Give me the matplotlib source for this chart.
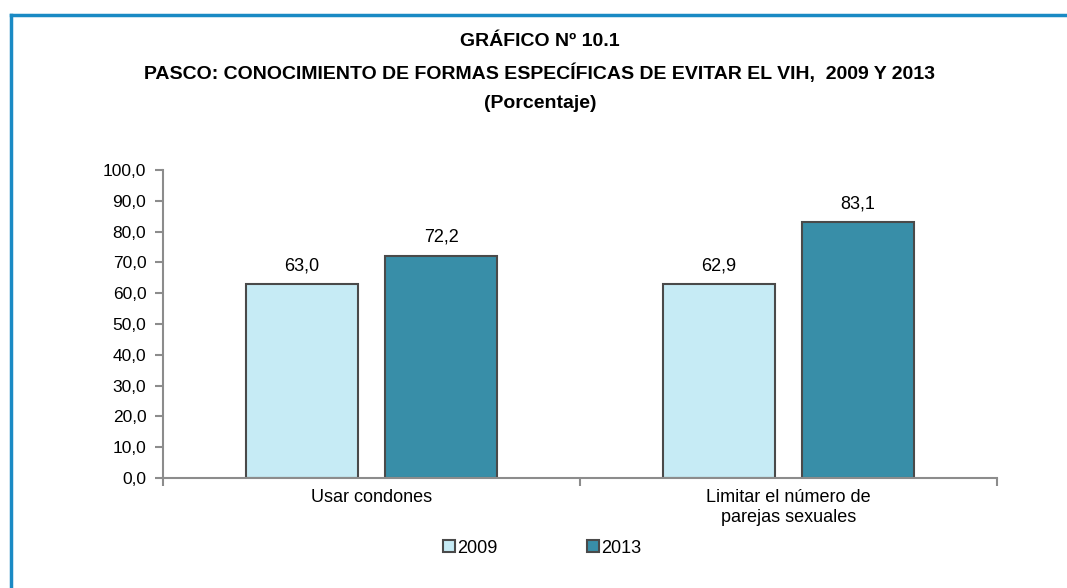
import matplotlib

matplotlib.use("Agg")
import matplotlib.pyplot as plt
from matplotlib.lines import Line2D
from matplotlib.patches import Patch
import numpy as np

plt.rcParams["font.family"] = ["Liberation Sans", "DejaVu Sans"]

categories = ["Usar condones", "Limitar el número de\nparejas sexuales"]
years = ["2009", "2013"]
values_2009 = [63.0, 62.9]
values_2013 = [72.2, 83.1]
yticks = [0, 10, 20, 30, 40, 50, 60, 70, 80, 90, 100]

title_lines = ["GRÁFICO Nº 10.1",
               "PASCO: CONOCIMIENTO DE FORMAS ESPECÍFICAS DE EVITAR EL VIH,  2009 Y 2013",
               "(Porcentaje)"]

LIGHT = "#C6EBF5"
DARK = "#388EA8"
EDGE = "#4a4a4a"
GREY = "#8c8c8c"


def fmt(v):
    return f"{v:.1f}".replace(".", ",")


fig = plt.figure(figsize=(10.67, 5.88), dpi=100)
ax = fig.add_axes([0.1528, 0.1871, 0.7816, 0.5238])

x = np.arange(len(categories)) + 0.5
w = 0.268
off = 0.1667
for vals, color, dx in [(values_2009, LIGHT, -off), (values_2013, DARK, off)]:
    bars = ax.bar(x + dx, vals, w, color=color, edgecolor=EDGE, linewidth=1.5)
    for b, v in zip(bars, vals):
        ax.text(b.get_x() + b.get_width() / 2, v + 3.2, fmt(v),
                ha="center", va="bottom", fontsize=13)

ax.set_xlim(0, 2)
ax.set_ylim(0, 100)
ax.set_yticks(yticks)
ax.set_yticklabels([fmt(t) for t in yticks], fontsize=12.5)
ax.set_xticks([0, 1, 2])
ax.set_xticklabels([])
ax.set_xticks(x, minor=True)
ax.set_xticklabels(categories, minor=True, fontsize=13)
ax.tick_params(axis="x", which="minor", length=0, pad=8)
ax.tick_params(axis="x", which="major", length=6, color=GREY, width=1.5)
ax.tick_params(axis="y", length=6, color=GREY, width=1.5, pad=6)
ax.spines["top"].set_visible(False)
ax.spines["right"].set_visible(False)
for s in ["left", "bottom"]:
    ax.spines[s].set_color(GREY)
    ax.spines[s].set_linewidth(1.5)

# title lines, centred at fixed heights
for line, yc in zip(title_lines, [42, 73, 104]):
    fig.text(0.506, 1 - yc / 588, line, ha="center", va="center", fontsize=14,
             fontweight="bold")

handles = [Patch(facecolor=LIGHT, edgecolor=EDGE, linewidth=1.5),
           Patch(facecolor=DARK, edgecolor=EDGE, linewidth=1.5)]
fig.legend(handles, years, loc="center", bbox_to_anchor=(0.508, 0.068), ncol=2,
           frameon=False, fontsize=13, handlelength=0.65, handleheight=0.65,
           handletextpad=0.1, columnspacing=5.0)

# blue frame (top and left edges)
fig.add_artist(Line2D([0.0103, 1.0], [0.974, 0.974], color="#1a8ac4", lw=2.5))
fig.add_artist(Line2D([0.0103, 0.0103], [0.0, 0.974], color="#1a8ac4", lw=2.5))

fig.savefig("out.png", dpi=100)
